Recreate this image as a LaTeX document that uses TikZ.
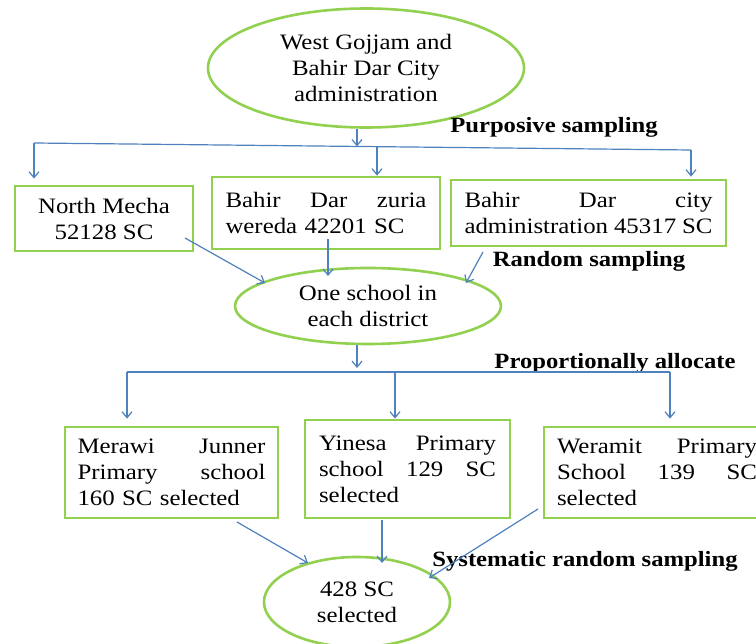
\documentclass[tikz,border=0pt]{standalone}
\usepackage{fontspec}
\setmainfont{Liberation Serif}[FakeStretch=1.13]
\usetikzlibrary{shapes.geometric,arrows.meta}
\definecolor{bordergreen}{HTML}{92D050}
\definecolor{arrowblue}{HTML}{4F81BD}
\newcommand{\jline}[2]{\leavevmode\hbox to #1{#2}}
\begin{document}
\begin{tikzpicture}[x=1pt,y=-1pt,
  every node/.style={font=\fontsize{22}{26}\selectfont},
  oval/.style={ellipse, draw=bordergreen, line width=2.6pt, inner sep=0pt, align=center},
  box/.style={rectangle, draw=bordergreen, line width=2.8pt, inner sep=0pt, align=left},
  lbl/.style={font=\fontsize{21.8}{26}\selectfont\bfseries, inner sep=0pt},
  conn/.style={draw=arrowblue, line width=1.2pt},
  arr/.style={conn, -{Straight Barb[length=6pt,width=10pt]}}
]
\fill[white] (0,0) rectangle (756,644);
\useasboundingbox (0,0) rectangle (756,644);
\begin{scope}
\clip (0,0) rectangle (756,644);
% nodes
\node[oval, minimum width=316pt, minimum height=119pt] (top) at (366,68) {West Gojjam and\\Bahir Dar City\\administration};
\node[box, minimum width=178pt, minimum height=65pt, align=center] (nm) at (104,218.5) {North Mecha\\52128 SC};
\node[box, minimum width=228pt, minimum height=72pt, text width=201pt] (zuria) at (326,213) {\jline{201pt}{Bahir\hfil Dar\hfil zuria}\\wereda 42201 SC};
\node[box, minimum width=275pt, minimum height=66pt, text width=248pt] (city) at (588.5,213) {\jline{248pt}{Bahir\hfil Dar\hfil city}\\\jline{248pt}{administration\hfil 45317\hfil SC}};
\node[oval, minimum width=266pt, minimum height=76pt] (mid) at (368,306) {One school in\\each district};
\node[box, minimum width=213pt, minimum height=91pt, text width=188pt] (merawi) at (171.5,472.5) {\jline{188pt}{Merawi\hfil Junner}\\\jline{188pt}{Primary\hfil school}\\160 SC selected};
\node[box, minimum width=205pt, minimum height=98pt, text width=177pt] (yinesa) at (407.5,469) {\jline{177pt}{Yinesa\hfil Primary}\\\jline{177pt}{school\hfil 129\hfil SC}\\selected};
\node[box, minimum width=226pt, minimum height=91pt, text width=200pt] (weramit) at (657,472.5) {\jline{200pt}{Weramit\hfil Primary}\\\jline{200pt}{School\hfil 139\hfil SC}\\selected};
\node[oval, minimum width=186pt, minimum height=90pt] (bot) at (357,602) {428 SC\\selected};
% labels
\node[lbl] (l1) at (554,127) {Purposive sampling};
\node[lbl] (l2) at (589,261) {Random sampling};
\node[lbl] (l3) at (615,363) {Proportionally allocate};
\node[lbl] (l4) at (585,561) {Systematic random sampling};
% connector points
\coordinate (b1L) at (34,143);
\coordinate (b1R) at (691,150);
\coordinate (b1M) at (357,146.4);
\coordinate (b1Z) at (377,146.6);
\coordinate (nmout) at (185,238);
\coordinate (nmin) at (265,283);
\coordinate (zout) at (328,239);
\coordinate (zin) at (328,276);
\coordinate (cout) at (483,252);
\coordinate (cin) at (466,283);
\coordinate (b2M) at (357,368);
\coordinate (b2L) at (127,372);
\coordinate (b2R) at (670,372);
\coordinate (b2Y) at (395,372);
\coordinate (mout) at (237,522);
\coordinate (min) at (308,563);
\coordinate (yout) at (382,520);
\coordinate (yin) at (382,563);
\coordinate (wout) at (538,509);
\coordinate (win) at (429,578);
% connectors
\draw[arr] ([xshift=-9pt]top.south) -- (b1M);
\draw[conn] (b1L) -- (b1R);
\draw[arr] (b1L) -- ([yshift=6pt]b1L |- nm.north);
\draw[arr] (b1Z) -- (b1Z |- zuria.north);
\draw[arr] (b1R) -- ([yshift=2pt]b1R |- city.north);
\draw[arr] (nmout) -- (nmin);
\draw[arr] (zout) -- (zin);
\draw[arr] (cout) -- (cin);
\draw[arr] ([xshift=-11pt]mid.south) -- (b2M);
\draw[conn] (b2L) -- (b2R);
\draw[arr] (b2L) -- ([yshift=7pt]b2L |- merawi.north);
\draw[arr] (b2Y) -- (b2Y |- yinesa.north);
\draw[arr] (b2R) -- ([yshift=7pt]b2R |- weramit.north);
\draw[arr] (mout) -- (min);
\draw[arr] (yout) -- (yin);
\draw[arr] (wout) -- (win);
\end{scope}
\end{tikzpicture}
\end{document}
